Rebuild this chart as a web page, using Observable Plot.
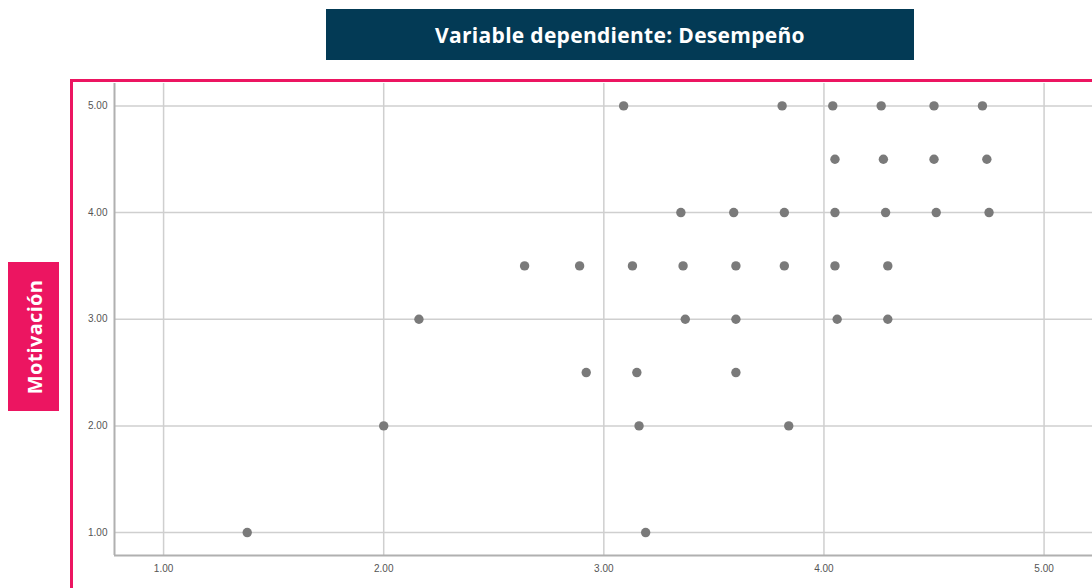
<!DOCTYPE html>
<html>
<head>
<meta charset="utf-8">
<script src="https://cdn.jsdelivr.net/npm/d3@7"></script>
<script src="https://cdn.jsdelivr.net/npm/@observablehq/plot@0.6"></script>
<style>
  html, body { margin: 0; padding: 0; background: #fff; width: 1092px; height: 588px; overflow: hidden; position: relative; }
  #chart { position: absolute; left: 0; top: 0; }
  #title { position: absolute; left: 326px; top: 9px; width: 588px; height: 51px; background: #033a55; color: #fff;
           font-family: "Open Sans", sans-serif; font-weight: 700; font-size: 21px; letter-spacing: 0.3px; display: flex; align-items: center; justify-content: center; }
  #frame { position: absolute; left: 70px; top: 79px; width: 1100px; height: 600px; border: 3px solid #ec1561; box-sizing: border-box; pointer-events: none; }
  #ylab { position: absolute; left: 8px; top: 262px; width: 51px; height: 149px; background: #ec1561; }
  #ylab span { position: absolute; left: 50%; top: 50%; transform: translate(-50%, -50%) rotate(-90deg); color: #fff;
               font-family: "Open Sans", sans-serif; font-weight: 700; font-size: 20px; letter-spacing: 0.3px; white-space: nowrap; }
</style>
</head>
<body>
<div id="chart"></div>
<div id="frame"></div>
<div id="title">Variable dependiente: Desempeño</div>
<div id="ylab"><span>Motivación</span></div>
<script>
// Desempeño (x) and Motivación (y) values
const desempeno = [
  3.09, 3.81, 4.04, 4.26, 4.50, 4.72,
  4.05, 4.27, 4.50, 4.74,
  3.35, 3.59, 3.82, 4.05, 4.28, 4.51, 4.75,
  2.64, 2.89, 3.13, 3.36, 3.60, 3.82, 4.05, 4.29,
  2.16, 3.37, 3.60, 4.06, 4.29,
  2.92, 3.15, 3.60,
  2.00, 3.16, 3.84,
  1.38, 3.19
];
const motivacion = [
  5, 5, 5, 5, 5, 5,
  4.5, 4.5, 4.5, 4.5,
  4, 4, 4, 4, 4, 4, 4,
  3.5, 3.5, 3.5, 3.5, 3.5, 3.5, 3.5, 3.5,
  3, 3, 3, 3, 3,
  2.5, 2.5, 2.5,
  2, 2, 2,
  1, 1
];
const xTicks = [1, 2, 3, 4, 5];
const yTicks = [1, 2, 3, 4, 5];
const xDomain = [0.777, 5.22];
const yDomain = [0.785, 5.21];

const data = desempeno.map((d, i) => ({x: d, y: motivacion[i]}));
const fmt = d3.format(".2f");

const plot = Plot.plot({
  width: 1092,
  height: 588,
  marginLeft: 114,
  marginRight: 0,
  marginTop: 83,
  marginBottom: 33,
  style: {fontFamily: "Liberation Sans, Arial, sans-serif", fontSize: "10px", color: "#555", background: "transparent"},
  x: {domain: xDomain, label: null},
  y: {domain: yDomain, label: null},
  marks: [
    Plot.gridX(xTicks, {stroke: "#cfcfcf", strokeOpacity: 1, strokeWidth: 1.5}),
    Plot.gridY(yTicks, {stroke: "#cfcfcf", strokeOpacity: 1, strokeWidth: 1.5}),
    Plot.ruleX([xDomain[0]], {stroke: "#b0b0b0", strokeWidth: 2}),
    Plot.ruleY([yDomain[0]], {stroke: "#b0b0b0", strokeWidth: 2}),
    Plot.axisX(xTicks, {tickSize: 0, tickPadding: 9, tickFormat: fmt, fill: "#555"}),
    Plot.axisY(yTicks, {tickSize: 0, tickPadding: 7, tickFormat: fmt, fill: "#555"}),
    Plot.dot(data, {x: "x", y: "y", r: 4.7, fill: "#7a7a7a", stroke: "none"})
  ]
});
document.getElementById("chart").appendChild(plot);
</script>
</body>
</html>
